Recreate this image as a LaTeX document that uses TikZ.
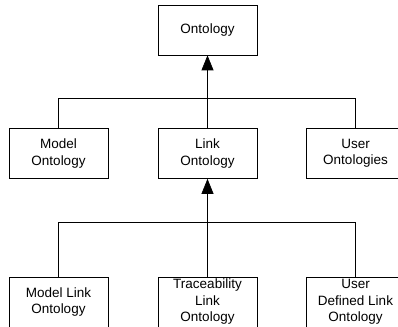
\documentclass[tikz,border=0pt]{standalone}
\usepackage{fontspec}
\setmainfont{Liberation Sans}
\usetikzlibrary{arrows.meta}
\begin{document}
\begin{tikzpicture}[x=1pt,y=-1pt,line width=0.7pt,
  every node/.style={font=\fontsize{13.5}{16.5}\selectfont},
  ontbox/.style={draw,minimum width=99pt,minimum height=50pt,inner sep=0pt,align=center},
  isa/.style={-{Triangle[width=12pt,length=15pt]}}]
  \useasboundingbox (0,0) rectangle (398,326);
  \clip (0,0) rectangle (398,326);
  % top
  \node[ontbox] (ont) at (207.5,30) {Ontology};
  % middle row
  \node[ontbox] (mod) at (58.5,153.5) {Model\\Ontology};
  \node[ontbox] (lnk) at (207.5,153.5) {Link\\Ontology};
  \node[ontbox] (usr) at (355.5,153.5) {User\\Ontologies};
  % bottom row
  \node[ontbox] (mlo) at (58.5,302) {Model Link\\Ontology};
  \node[ontbox] (tlo) at (207.5,302) {Traceability\\Link\\Ontology};
  \node[ontbox] (udl) at (355.5,302) {User\\Defined Link\\Ontology};
  % generalisation links
  \coordinate (bus1) at (207.5,98);
  \coordinate (bus2) at (207.5,222);
  \draw[isa] (lnk.north) -- (ont.south);
  \draw (mod.north) -- (mod.north |- bus1) -- (usr.north |- bus1) -- (usr.north);
  \draw[isa] (tlo.north) -- (lnk.south);
  \draw (mlo.north) -- (mlo.north |- bus2) -- (udl.north |- bus2) -- (udl.north);
\end{tikzpicture}
\end{document}
